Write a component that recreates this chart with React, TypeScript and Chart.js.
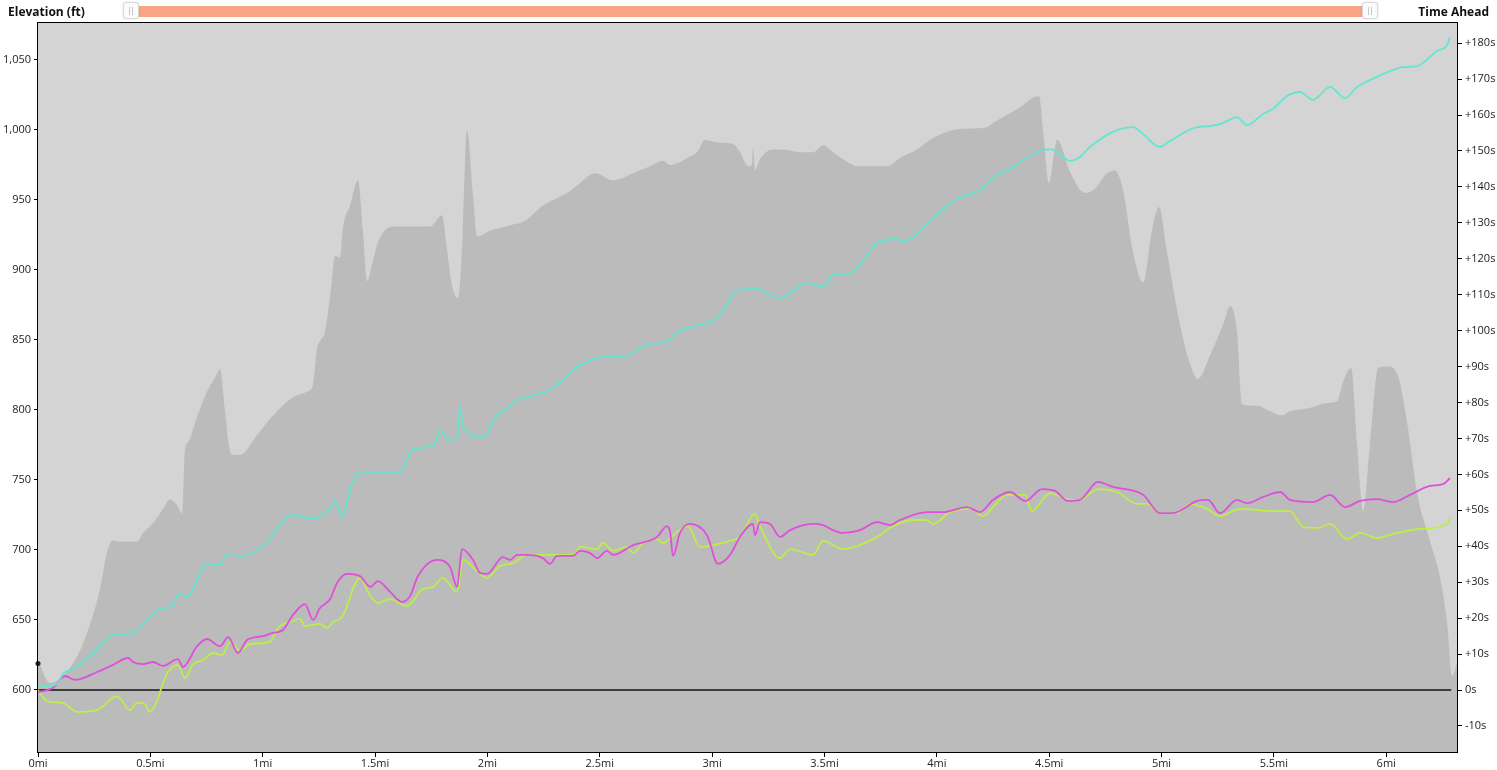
import { useEffect, useRef } from 'react';
import { Chart, registerables } from 'chart.js';
Chart.register(...registerables);

// ---------- data ----------
const xTickValues = [0, 0.5, 1, 1.5, 2, 2.5, 3, 3.5, 4, 4.5, 5, 5.5, 6];
const elevTickValues = [600, 650, 700, 750, 800, 850, 900, 950, 1000, 1050];
const timeTickValues = [-10, 0, 10, 20, 30, 40, 50, 60, 70, 80, 90, 100, 110, 120, 130, 140, 150, 160, 170, 180];

const elevMi = [0, 0.053, 0.174, 0.231, 0.276, 0.307, 0.334, 0.352, 0.441, 0.467, 0.512, 0.556, 0.587, 0.619, 0.641, 0.654, 0.668, 0.708, 0.752, 0.788, 0.81, 0.832, 0.85, 0.863, 0.899, 0.975, 1.046, 1.135, 1.197, 1.224, 1.242, 1.255, 1.277, 1.3, 1.322, 1.344, 1.357, 1.389, 1.424, 1.446, 1.464, 1.491, 1.513, 1.58, 1.745, 1.798, 1.82, 1.842, 1.869, 1.891, 1.909, 1.936, 1.954, 2.012, 2.101, 2.167, 2.247, 2.354, 2.412, 2.479, 2.559, 2.648, 2.724, 2.781, 2.813, 2.902, 2.933, 2.968, 3.022, 3.093, 3.124, 3.16, 3.178, 3.182, 3.191, 3.213, 3.271, 3.316, 3.391, 3.449, 3.494, 3.538, 3.614, 3.645, 3.778, 3.836, 3.912, 3.97, 4.072, 4.148, 4.223, 4.25, 4.37, 4.428, 4.455, 4.473, 4.499, 4.535, 4.593, 4.66, 4.704, 4.757, 4.793, 4.829, 4.873, 4.918, 4.958, 4.989, 5.024, 5.082, 5.127, 5.162, 5.216, 5.274, 5.305, 5.336, 5.358, 5.425, 5.483, 5.536, 5.572, 5.648, 5.737, 5.781, 5.808, 5.844, 5.87, 5.897, 5.928, 5.964, 6.008, 6.053, 6.093, 6.137, 6.195, 6.24, 6.271, 6.293, 6.315];
const elevFt = [621, 605, 624, 647, 672, 698, 707, 706, 706, 712, 719, 729, 736, 732, 726, 772, 777, 795, 813, 823, 829, 800, 774, 768, 768, 782, 796, 809, 813, 818, 844, 849, 856, 881, 910, 909, 930, 946, 964, 928, 892, 907, 920, 931, 931, 939, 915, 889, 880, 928, 1000, 953, 924, 928, 932, 935, 946, 955, 962, 969, 964, 969, 974, 978, 975, 981, 984, 993, 991, 990, 984, 974, 975, 988, 971, 979, 986, 986, 984, 984, 989, 984, 976, 974, 974, 980, 986, 993, 1000, 1001, 1002, 1005, 1016, 1023, 1024, 999, 962, 993, 970, 955, 958, 969, 971, 957, 913, 891, 929, 945, 913, 861, 833, 822, 839, 861, 874, 856, 804, 803, 799, 796, 799, 801, 805, 806, 820, 830, 776, 728, 776, 830, 831, 824, 791, 741, 706, 680, 648, 610, 619];

const cyanMi = [0, 0.053, 0.089, 0.111, 0.156, 0.245, 0.334, 0.423, 0.467, 0.556, 0.601, 0.623, 0.663, 0.752, 0.81, 0.841, 0.912, 1.001, 1.135, 1.224, 1.3, 1.322, 1.353, 1.389, 1.433, 1.611, 1.669, 1.758, 1.789, 1.834, 1.869, 1.878, 1.891, 1.98, 2.043, 2.101, 2.132, 2.19, 2.279, 2.323, 2.412, 2.546, 2.604, 2.724, 2.781, 2.857, 3.035, 3.111, 3.155, 3.213, 3.244, 3.302, 3.422, 3.494, 3.538, 3.614, 3.672, 3.734, 3.823, 3.85, 3.97, 4.072, 4.148, 4.192, 4.25, 4.339, 4.446, 4.504, 4.548, 4.593, 4.637, 4.682, 4.784, 4.873, 4.918, 4.993, 5.038, 5.158, 5.216, 5.274, 5.336, 5.38, 5.452, 5.496, 5.559, 5.616, 5.674, 5.75, 5.817, 5.87, 5.928, 6.017, 6.075, 6.137, 6.226, 6.271, 6.284];
const cyanSec = [0.8, 1.1, 1.9, 4.5, 5.8, 10.3, 15.3, 15.9, 18.4, 22.8, 23.4, 26.7, 25.9, 35.1, 34.8, 37.6, 37.3, 40.1, 48.7, 47.6, 50.6, 52.6, 48.1, 55.9, 60.7, 60.7, 67.1, 67.9, 72.1, 69.6, 71.0, 79.0, 73.5, 70.4, 76.5, 79.0, 80.7, 81.8, 83.5, 85.7, 90.4, 92.9, 92.7, 96.3, 96.5, 99.9, 104.3, 111.3, 111.6, 111.6, 110.2, 109.1, 113.2, 112.1, 115.5, 116.0, 119.6, 124.4, 125.5, 124.9, 130.5, 136.1, 138.0, 139.1, 142.5, 145.5, 149.7, 150.5, 149.1, 147.2, 148.3, 151.1, 155.3, 156.6, 154.7, 151.1, 152.8, 156.6, 156.9, 157.8, 159.4, 157.2, 160.3, 161.7, 165.3, 166.4, 164.2, 167.8, 164.7, 167.8, 169.7, 172.2, 173.3, 173.6, 177.8, 179.5, 181.7];

const magentaMi = [0, 0.067, 0.12, 0.165, 0.263, 0.334, 0.401, 0.423, 0.467, 0.512, 0.556, 0.623, 0.645, 0.708, 0.752, 0.81, 0.846, 0.89, 0.93, 1.001, 1.046, 1.09, 1.135, 1.188, 1.224, 1.255, 1.3, 1.331, 1.375, 1.433, 1.478, 1.513, 1.567, 1.62, 1.656, 1.691, 1.776, 1.834, 1.865, 1.887, 1.936, 1.967, 1.998, 2.069, 2.101, 2.132, 2.176, 2.247, 2.279, 2.31, 2.381, 2.412, 2.457, 2.488, 2.532, 2.559, 2.648, 2.755, 2.799, 2.813, 2.826, 2.857, 2.902, 2.977, 3.026, 3.08, 3.124, 3.182, 3.191, 3.213, 3.258, 3.302, 3.347, 3.449, 3.494, 3.538, 3.583, 3.658, 3.734, 3.792, 3.836, 3.956, 4.028, 4.134, 4.192, 4.25, 4.326, 4.393, 4.468, 4.526, 4.584, 4.637, 4.717, 4.784, 4.918, 4.993, 5.051, 5.158, 5.207, 5.26, 5.336, 5.38, 5.452, 5.528, 5.572, 5.674, 5.75, 5.817, 5.884, 5.959, 6.03, 6.106, 6.195, 6.253, 6.284];
const magentaSec = [-0.6, 0.6, 3.9, 2.8, 5.0, 7.0, 8.9, 7.8, 7.2, 7.8, 6.7, 8.6, 6.4, 12.2, 14.2, 12.2, 14.7, 10.3, 13.9, 15.0, 15.9, 16.7, 20.9, 23.9, 19.5, 22.8, 25.3, 29.8, 32.3, 31.7, 28.7, 30.3, 27.3, 24.5, 26.2, 31.7, 36.2, 34.2, 28.7, 39.2, 36.2, 32.6, 32.3, 37.0, 36.2, 37.6, 37.6, 36.7, 35.1, 37.3, 37.3, 38.7, 38.1, 36.7, 38.7, 37.6, 40.3, 42.6, 45.6, 44.0, 37.3, 43.7, 46.2, 43.1, 35.1, 37.6, 42.6, 46.2, 43.1, 46.7, 46.2, 42.6, 44.5, 46.2, 45.9, 44.5, 43.7, 44.5, 46.7, 45.9, 47.3, 49.5, 49.5, 50.9, 49.5, 52.9, 55.1, 52.6, 55.9, 55.4, 52.6, 52.9, 57.9, 56.5, 54.3, 49.2, 49.2, 52.6, 52.9, 49.2, 52.9, 52.0, 53.7, 55.1, 52.9, 52.3, 54.3, 50.9, 52.6, 53.1, 52.3, 54.3, 56.8, 57.3, 59.0];

const limeMi = [0, 0.04, 0.111, 0.174, 0.263, 0.352, 0.409, 0.441, 0.476, 0.498, 0.521, 0.574, 0.623, 0.654, 0.69, 0.734, 0.779, 0.819, 0.854, 0.899, 0.943, 1.032, 1.068, 1.135, 1.166, 1.188, 1.255, 1.286, 1.313, 1.353, 1.433, 1.478, 1.513, 1.567, 1.642, 1.713, 1.758, 1.802, 1.865, 1.891, 1.954, 1.998, 2.056, 2.114, 2.176, 2.265, 2.381, 2.412, 2.488, 2.514, 2.559, 2.621, 2.648, 2.692, 2.755, 2.781, 2.844, 2.893, 2.946, 3.004, 3.08, 3.124, 3.191, 3.213, 3.302, 3.347, 3.449, 3.494, 3.583, 3.658, 3.747, 3.805, 3.894, 3.956, 3.983, 4.059, 4.148, 4.206, 4.25, 4.312, 4.393, 4.424, 4.504, 4.593, 4.637, 4.717, 4.802, 4.891, 4.935, 4.993, 5.069, 5.127, 5.203, 5.26, 5.349, 5.483, 5.572, 5.63, 5.692, 5.75, 5.826, 5.884, 5.959, 6.048, 6.151, 6.271, 6.284];
const limeSec = [0, -3.1, -3.6, -6.1, -5.6, -1.7, -5.6, -3.6, -3.9, -6.1, -4.2, 4.5, 7.0, 3.3, 7.2, 8.3, 10.3, 9.7, 13.4, 10.9, 12.8, 13.4, 17.3, 19.2, 19.8, 17.8, 18.4, 17.3, 18.9, 20.3, 31.2, 26.2, 24.2, 25.3, 23.4, 28.1, 28.7, 31.2, 27.3, 36.2, 33.1, 31.2, 34.5, 35.3, 37.6, 37.6, 37.6, 39.8, 39.2, 40.9, 38.7, 39.8, 38.1, 40.9, 42.0, 40.9, 44.0, 45.6, 39.8, 40.3, 41.5, 42.6, 49.0, 45.6, 36.7, 39.2, 37.6, 41.5, 39.2, 40.3, 43.1, 45.6, 47.3, 47.3, 46.2, 49.5, 50.4, 48.4, 50.9, 54.3, 54.3, 49.8, 54.8, 52.9, 52.9, 55.9, 55.1, 51.8, 51.8, 49.2, 49.2, 51.8, 50.4, 48.4, 50.4, 49.8, 49.8, 45.4, 45.1, 46.2, 42.0, 43.7, 42.3, 43.7, 44.8, 46.2, 47.9];

const zeroLineMi = [0, 6.289];
const zeroLineSec = [0, 0];
const markerMi = [0];
const markerFt = [619];

// ---------- helpers ----------
const pts = (xs: number[], ys: number[]) => xs.map((x, i) => ({ x, y: ys[i] }));
const fixedTicks = (vals: number[]) => (scale: any) => {
  scale.ticks = vals.map((v) => ({ value: v }));
};

const frame = {
  id: 'frame',
  beforeDatasetsDraw(chart: any) {
    const { ctx, chartArea: a } = chart;
    ctx.save();
    ctx.fillStyle = '#d4d4d4';
    ctx.fillRect(a.left, a.top, a.right - a.left, a.bottom - a.top);
    ctx.restore();
  },
  afterDatasetsDraw(chart: any) {
    const { ctx, chartArea: a } = chart;
    ctx.save();
    ctx.strokeStyle = '#000';
    ctx.lineWidth = 1;
    ctx.strokeRect(Math.round(a.left) - 0.5, Math.round(a.top) - 0.5, Math.round(a.right - a.left) + 1, Math.round(a.bottom - a.top) + 1);
    ctx.restore();
  },
};

const tickFont = { family: '"Open Sans", "Segoe UI", sans-serif', size: 11 };

function Handle({ left }: { left: number }) {
  return (
    <div
      style={{
        position: 'absolute',
        left,
        top: 2,
        width: 16,
        height: 17,
        boxSizing: 'border-box',
        background: '#fbfbfb',
        border: '1px solid #d8d8d8',
        borderRadius: 3,
        boxShadow: '0 0 2px rgba(0,0,0,0.15)',
      }}
    >
      <div style={{ position: 'absolute', left: 5, top: 4, width: 1, height: 8, background: '#c8c8c8' }} />
      <div style={{ position: 'absolute', left: 8, top: 4, width: 1, height: 8, background: '#c8c8c8' }} />
    </div>
  );
}

export default function App() {
  const ref = useRef<HTMLCanvasElement>(null);

  useEffect(() => {
    if (!ref.current) return;
    const common = { pointRadius: 0, cubicInterpolationMode: 'monotone' as const, fill: false };
    const chart = new Chart(ref.current, {
      type: 'line',
      data: {
        datasets: [
          {
            label: 'Marker',
            data: pts(markerMi, markerFt),
            yAxisID: 'y',
            showLine: false,
            pointRadius: 2.5,
            pointBackgroundColor: '#222',
            pointBorderWidth: 0,
            clip: false as any,
            order: 0,
          },
          { label: 'Cyan', data: pts(cyanMi, cyanSec), yAxisID: 'y2', borderColor: '#62e6d2', borderWidth: 1.8, ...common, order: 1 },
          { label: 'Magenta', data: pts(magentaMi, magentaSec), yAxisID: 'y2', borderColor: '#e04fdc', borderWidth: 1.8, ...common, order: 2 },
          { label: 'Lime', data: pts(limeMi, limeSec), yAxisID: 'y2', borderColor: '#bdee48', borderWidth: 1.8, ...common, order: 3 },
          { label: 'Zero', data: pts(zeroLineMi, zeroLineSec), yAxisID: 'y2', borderColor: '#3c3c3c', borderWidth: 1.8, pointRadius: 0, fill: false, order: 4 },
          {
            label: 'Elevation',
            data: pts(elevMi, elevFt),
            yAxisID: 'y',
            borderWidth: 0,
            borderColor: 'rgba(0,0,0,0)',
            backgroundColor: '#bbbbbb',
            fill: 'start',
            pointRadius: 0,
            cubicInterpolationMode: 'monotone',
            order: 5,
          },
        ],
      },
      options: {
        responsive: false,
        animation: false,
        events: [],
        layout: { padding: { top: 23, left: 0, right: 0, bottom: 0 } },
        plugins: { legend: { display: false }, tooltip: { enabled: false } },
        scales: {
          x: {
            type: 'linear',
            position: 'bottom',
            min: 0,
            max: 6.315,
            afterFit: (s: any) => { s.height = 18; },
            afterBuildTicks: fixedTicks(xTickValues),
            grid: { drawOnChartArea: false, drawTicks: true, tickLength: 5, color: '#000' },
            border: { display: false },
            ticks: { autoSkip: false, maxRotation: 0, padding: 0, color: '#222', font: tickFont, callback: (v: any) => `${v}mi` },
          },
          y: {
            type: 'linear',
            position: 'left',
            min: 555.7,
            max: 1076.4,
            afterFit: (s: any) => { s.width = 38; },
            afterBuildTicks: fixedTicks(elevTickValues),
            grid: { drawOnChartArea: false, drawTicks: true, tickLength: 4, color: '#000' },
            border: { display: false },
            ticks: { padding: 3, color: '#222', font: tickFont, callback: (v: any) => Number(v).toLocaleString('en-US') },
          },
          y2: {
            type: 'linear',
            position: 'right',
            min: -17.25,
            max: 185.6,
            afterFit: (s: any) => { s.width = 40; },
            afterBuildTicks: fixedTicks(timeTickValues),
            grid: { drawOnChartArea: false, drawTicks: true, tickLength: 5, color: '#000' },
            border: { display: false },
            ticks: { padding: 3, color: '#222', font: tickFont, callback: (v: any) => (v > 0 ? `+${v}s` : `${v}s`) },
          },
        },
      },
      plugins: [frame],
    });
    return () => chart.destroy();
  }, []);

  return (
    <div style={{ position: 'fixed', left: 0, top: 0, width: 1497, height: 770, background: '#fff', overflow: 'hidden', fontFamily: '"Open Sans", sans-serif' }}>
      <canvas ref={ref} width={1497} height={770} style={{ position: 'absolute', left: 0, top: 0, width: 1497, height: 770 }} />
      <div style={{ position: 'absolute', left: 8, top: 3, fontSize: 12, fontWeight: 700, color: '#111', lineHeight: '17px' }}>Elevation (ft)</div>
      <div style={{ position: 'absolute', right: 8, top: 3, fontSize: 12, fontWeight: 700, color: '#111', lineHeight: '17px' }}>Time Ahead</div>
      <div style={{ position: 'absolute', left: 138, top: 6, width: 1226, height: 11, background: '#f8a584' }} />
      <Handle left={123} />
      <Handle left={1362} />
    </div>
  );
}
